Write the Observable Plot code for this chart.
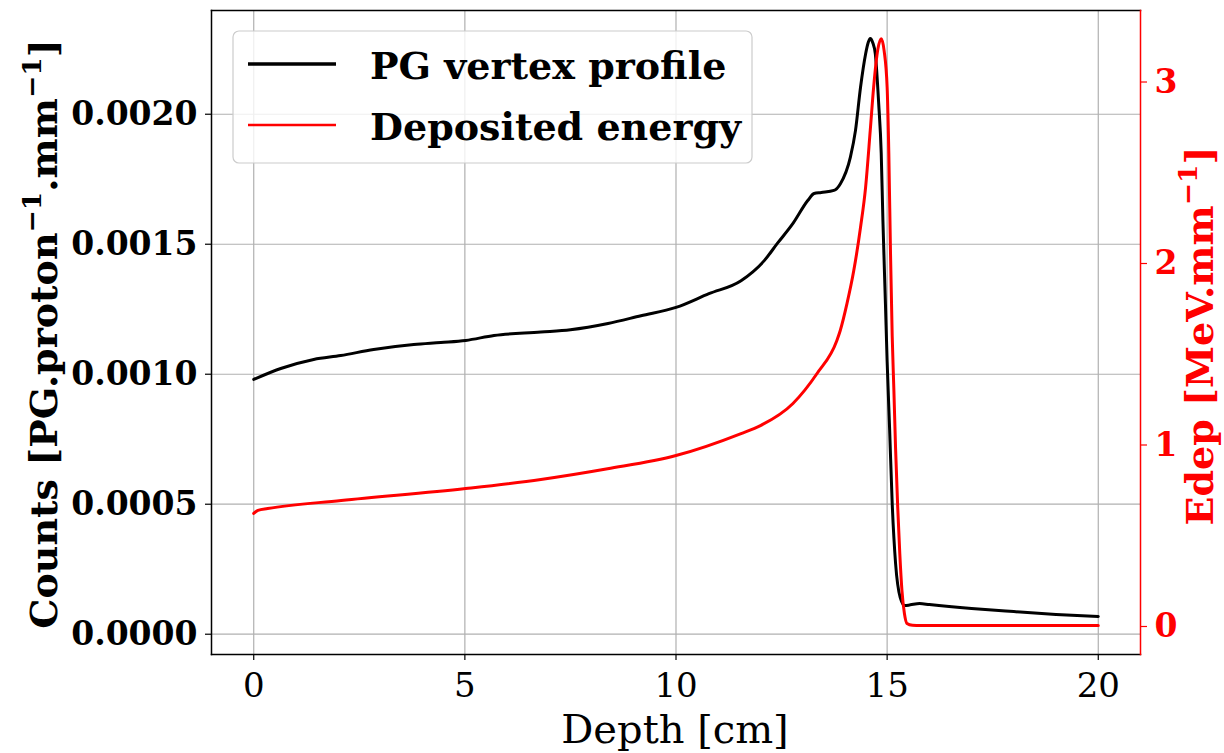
<!DOCTYPE html>
<html>
<head>
<meta charset="utf-8">
<script src="https://cdn.jsdelivr.net/npm/d3@7"></script>
<script src="https://cdn.jsdelivr.net/npm/@observablehq/plot@0.6"></script>
<style>
  html, body { margin: 0; padding: 0; background: #ffffff; }
  #chart svg { display: block; }
</style>
</head>
<body>
<div id="chart"></div>
<script>
// ---- Data ----
const depthPG = [0, 0.64, 1.42, 2.06, 2.84, 3.79, 4.43, 5.02, 5.69, 6.8, 7.5, 8.39, 9.17, 10, 10.78, 11.54, 12.09, 12.4, 12.77, 13.12, 13.27, 13.44, 13.74, 13.89, 14.13, 14.25, 14.37, 14.49, 14.55, 14.6, 14.66, 14.72, 14.8, 14.86, 14.9, 14.96, 15.0, 15.06, 15.12, 15.2, 15.31, 15.42, 15.55, 15.77, 16, 17, 18, 19, 20];
const pgCounts = [0.000980, 0.001022, 0.001057, 0.001072, 0.001095, 0.001114, 0.001122, 0.001130, 0.001149, 0.001162, 0.001171, 0.001195, 0.001225, 0.001257, 0.001310, 0.001360, 0.001437, 0.001503, 0.001580, 0.001668, 0.001695, 0.001699, 0.001707, 0.001732, 0.001835, 0.001937, 0.002104, 0.002232, 0.002275, 0.002291, 0.002275, 0.002232, 0.002041, 0.001849, 0.001591, 0.001270, 0.001050, 0.000783, 0.000503, 0.000272, 0.000141, 0.000110, 0.000113, 0.000118, 0.000114, 0.000099, 0.000087, 0.000076, 0.000068];

const depthE = [0, 0.1, 0.33, 2.07, 5.02, 6.8, 8.38, 10, 11.54, 12, 12.77, 13.34, 13.81, 13.89, 14.05, 14.21, 14.37, 14.49, 14.6, 14.68, 14.78, 14.86, 14.93, 15.0, 15.04, 15.08, 15.12, 15.16, 15.2, 15.25, 15.3, 15.35, 15.41, 15.47, 15.6, 15.79, 20];
const edep = [0.623, 0.640, 0.650, 0.694, 0.760, 0.810, 0.869, 0.942, 1.063, 1.107, 1.229, 1.394, 1.576, 1.631, 1.780, 1.961, 2.200, 2.420, 2.733, 2.971, 3.180, 3.238, 3.170, 2.971, 2.606, 2.055, 1.600, 1.300, 0.980, 0.660, 0.400, 0.200, 0.070, 0.017, 0.007, 0.005, 0.005];

const xTicks = [0, 5, 10, 15, 20];
const yTicksLeft = [0, 0.0005, 0.0010, 0.0015, 0.0020];
const yTicksRight = [0, 1, 2, 3];
const seriesNames = ["PG vertex profile", "Deposited energy"];

// ---- Scales: left axis domain and right (twin) axis domain ----
const L = [-0.000078, 0.002399];
const R = [-0.1543, 3.394];
const toLeft = e => L[0] + (e - R[0]) / (R[1] - R[0]) * (L[1] - L[0]);
const fromLeft = v => R[0] + (v - L[0]) / (L[1] - L[0]) * (R[1] - R[0]);

const pgData = depthPG.map((d, i) => ({depth: d, v: pgCounts[i]}));
const eData = depthE.map((d, i) => ({depth: d, e: edep[i]}));

const gridStyle = {stroke: "#b0b0b0", strokeOpacity: 1, strokeWidth: 1.2};

const plot = Plot.plot({
  width: 1224,
  height: 753,
  marginLeft: 211,
  marginRight: 84,
  marginTop: 10,
  marginBottom: 99,
  style: {background: "#ffffff", fontFamily: "DejaVu Serif", color: "black", overflow: "visible"},
  x: {domain: [-1, 21]},
  y: {domain: L},
  marks: [
    Plot.gridX(xTicks, gridStyle),
    Plot.gridY(yTicksLeft, gridStyle),
    Plot.line(pgData, {x: "depth", y: "v", stroke: "black", strokeWidth: 3, curve: "monotone-x"}),
    Plot.line(eData, {x: "depth", y: d => toLeft(d.e), stroke: "#ff0000", strokeWidth: 3, curve: "monotone-x"}),
    Plot.frame({anchor: "top", stroke: "black", strokeWidth: 1.5}),
    Plot.frame({anchor: "left", stroke: "black", strokeWidth: 1.5}),
    Plot.frame({anchor: "bottom", stroke: "black", strokeWidth: 1.5}),
    Plot.frame({anchor: "right", stroke: "#ff0000", strokeWidth: 1.5}),
    Plot.axisX(xTicks, {
      label: null, tickSize: 6, tickPadding: 12, fontSize: 34,
      fontFamily: "DejaVu Serif", tickFormat: d => String(d), strokeWidth: 1.2
    }),
    Plot.axisY(yTicksLeft, {
      label: null, tickSize: 6, tickPadding: 8, fontSize: 33, fontWeight: "bold",
      fontFamily: "DejaVu Serif", tickFormat: d => d.toFixed(4), strokeWidth: 1.2
    }),
    Plot.axisY(yTicksRight.map(toLeft), {
      anchor: "right", label: null, tickSize: 6, tickPadding: 8, fontSize: 33,
      fontWeight: "bold", fontFamily: "DejaVu Serif", color: "#ff0000",
      tickFormat: d => String(Math.round(fromLeft(d))), strokeWidth: 1.2
    })
  ]
});

document.getElementById("chart").appendChild(plot);

// ---- Axis labels with superscripts ----
const svg = d3.select(plot);

function addLabel(x, y, rotate, parts, opts) {
  const t = svg.append("text")
    .attr("transform", `translate(${x},${y}) rotate(${rotate})`)
    .attr("text-anchor", "middle")
    .attr("font-family", opts.family || "DejaVu Serif")
    .attr("font-size", opts.size)
    .attr("font-weight", opts.weight || "normal")
    .attr("fill", opts.color || "black");
  let shift = false;
  parts.forEach(p => {
    if (p.sup) {
      t.append("tspan").attr("font-size", "70%").attr("dy", "-0.62em").text(p.sup);
      shift = true;
    } else {
      const s = t.append("tspan").text(p.t);
      if (shift) { s.attr("dy", "0.434em"); shift = false; }
    }
  });
}

addLabel(57, 334, -90,
  [{t: "Counts [PG.proton"}, {sup: "\u22121"}, {t: ".mm"}, {sup: "\u22121"}, {t: "]"}],
  {size: 38, weight: "bold"});

addLabel(1213, 336, -90,
  [{t: "Edep [MeV.mm"}, {sup: "\u22121"}, {t: "]"}],
  {size: 38, weight: "bold", color: "#ff0000"});

addLabel(675, 743, 0, [{t: "Depth [cm]"}], {size: 40});

// ---- Legend ----
const lg = svg.append("g");
lg.append("rect")
  .attr("x", 233).attr("y", 31).attr("width", 519).attr("height", 132)
  .attr("rx", 6).attr("ry", 6)
  .attr("fill", "white").attr("fill-opacity", 0.8)
  .attr("stroke", "#cccccc").attr("stroke-width", 1.2);
const legendColors = ["black", "#ff0000"];
const legendWidths = [3.5, 2.6];
seriesNames.forEach((name, i) => {
  const cy = 64 + i * 61;
  lg.append("line")
    .attr("x1", 248).attr("x2", 336).attr("y1", cy).attr("y2", cy)
    .attr("stroke", legendColors[i]).attr("stroke-width", legendWidths[i]);
  lg.append("text")
    .attr("x", 370).attr("y", cy + 15)
    .attr("text-anchor", "start")
    .attr("font-family", "DejaVu Serif").attr("font-weight", "bold")
    .attr("font-size", 38).attr("fill", "black")
    .text(name);
});
</script>
</body>
</html>
